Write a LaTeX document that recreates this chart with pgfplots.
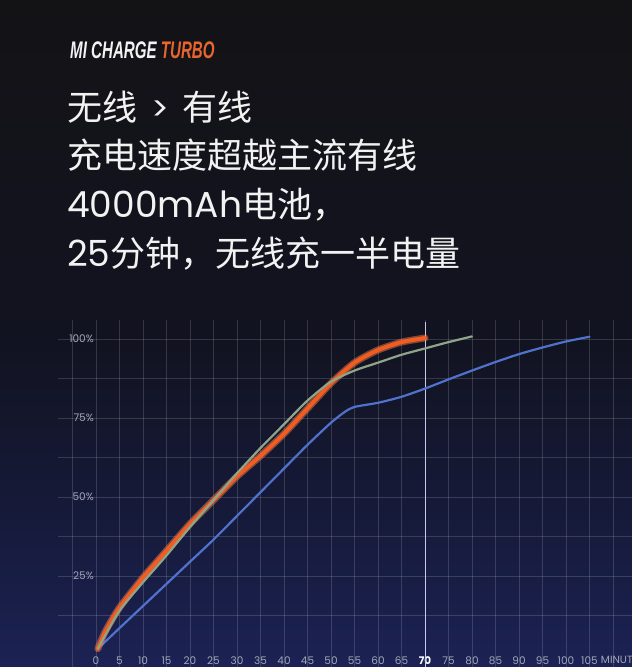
\documentclass[border=0pt]{standalone}
\usepackage{pgfplots}
\pgfplotsset{compat=1.18}
\usepackage{pgfplotstable}
\usepackage{fontspec}
\setmainfont{Poppins}
\newfontfamily\cjk{Noto Sans CJK SC}
\newfontfamily\logo{Liberation Sans}

\definecolor{bgtop}{HTML}{131316}
\definecolor{bgm2}{HTML}{121320}
\definecolor{bgm1}{HTML}{161A3A}
\definecolor{bgbot}{HTML}{1C2254}
\definecolor{txt}{HTML}{F2F2F2}
\definecolor{turbo}{HTML}{E8652D}
\definecolor{tick}{HTML}{A3A6BA}
\definecolor{wlorange}{HTML}{F25C22}
\definecolor{wlglow}{HTML}{FF8A4C}
\definecolor{wgreen}{HTML}{8FA58A}
\definecolor{wblue}{HTML}{4F72CC}
\definecolor{mark70}{HTML}{C9C8F2}

% stops between 25bp and 75bp are mapped onto the panel's height
\pgfdeclareverticalshading{panel}{100bp}{color(0bp)=(bgbot); color(25bp)=(bgbot); color(36.2bp)=(bgm1); color(49.7bp)=(bgm2); color(75bp)=(bgtop); color(100bp)=(bgtop)}

% minutes vs. charge level (%)
\pgfplotstableread{
t p
0.4 2
2 7.5
5 15
10 24.5
15 33
20 41.5
25 49
30 56.5
35 63
40 70
45 78
50 86
55 92.5
60 96.5
65 99
70 100.3
}\turbodata

\pgfplotstableread{
t p
0.4 2
5 14
10 23
15 31.5
20 40.5
25 49
30 57.5
35 65.5
40 73
45 80.5
50 86.5
55 90
60 92.5
65 95
70 97
75 99
80 100.8
}\greendata

\pgfplotstableread{
t p
0.4 2
5 8.5
10 15.5
15 22.5
20 29.5
25 36.5
30 44
35 51.5
40 59
45 66.5
50 73.5
53 77
55 78.5
60 79.8
65 81.7
70 84.3
75 87.2
80 90
85 92.7
90 95.2
95 97.3
100 99.2
105 100.7
}\bluedata

\begin{document}
\begin{tikzpicture}[x=1pt,y=1pt]
\useasboundingbox (0,0) rectangle (632,667);
\shade[shading=panel] (0,0) rectangle (632,667);

% heading
\node[anchor=west, inner sep=0pt] at (70,617)
  {\scalebox{0.63}[1]{\logo\fontsize{24}{24}\selectfont\bfseries\itshape
   \textcolor{txt}{MI CHARGE} \textcolor{turbo}{TURBO}}};
\begin{scope}[every node/.style={anchor=west, inner sep=0pt, text=txt}]
\node at (67,560) {\cjk\fontsize{35}{35}\selectfont 无线\hspace{14pt}{\rmfamily\fontsize{33}{33}\selectfont >}\hspace{14pt}有线};
\node at (67,512) {\cjk\fontsize{35}{35}\selectfont 充电速度超越主流有线};
\node at (67,462) {\fontsize{36}{36}\selectfont 4000mAh\cjk\fontsize{35}{35}\selectfont 电池，};
\node at (67,413) {\fontsize{36}{36}\selectfont 25\cjk\fontsize{35}{35}\selectfont 分钟，无线充一半电量};
\end{scope}

\begin{axis}[
  at={(58.4pt,0pt)}, anchor=south west,
  scale only axis, width=578.1pt, height=347pt,
  xmin=-8, xmax=115, ymin=-3.8, ymax=106,
  axis line style={draw=none},
  major tick length=0pt,
  xtick={-5,0,...,110},
  xticklabels={,0,5,10,15,20,25,30,35,40,45,50,55,60,65,{\textcolor{white}{\bfseries 70}},75,80,85,90,95,100,105,},
  ytick={12.5,25,...,100},
  yticklabels={,25\%,,50\%,,75\%,,100\%},
  grid=major,
  grid style={white, opacity=0.15, line width=0.5pt},
  tick label style={font=\fontsize{10.5}{10.5}\selectfont, text=tick, inner sep=0pt},
  xticklabel style={anchor=south, yshift=2pt},
  yticklabel style={anchor=east, xshift=35.6pt},
]
\addplot[mark70, line width=1pt] coordinates {(70,-3.8) (70,105.5)};

\addplot[wblue, line width=2.2pt, smooth, tension=0.4, line cap=round] table[x=t, y=p] {\bluedata};
\addplot[wlglow, opacity=0.45, line width=7pt, smooth, tension=0.4, line cap=round] table[x=t, y=p] {\turbodata};
\addplot[wlorange, line width=4pt, smooth, tension=0.4, line cap=round] table[x=t, y=p] {\turbodata};
\addplot[wgreen, line width=2.2pt, smooth, tension=0.4, line cap=round] table[x=t, y=p] {\greendata};

\node[anchor=base west, inner sep=0pt, text=tick, font=\fontsize{10.5}{10.5}\selectfont]
  at (axis cs:107.4,-3.8) [yshift=3pt] {MINUT};
\end{axis}
\end{tikzpicture}
\end{document}
